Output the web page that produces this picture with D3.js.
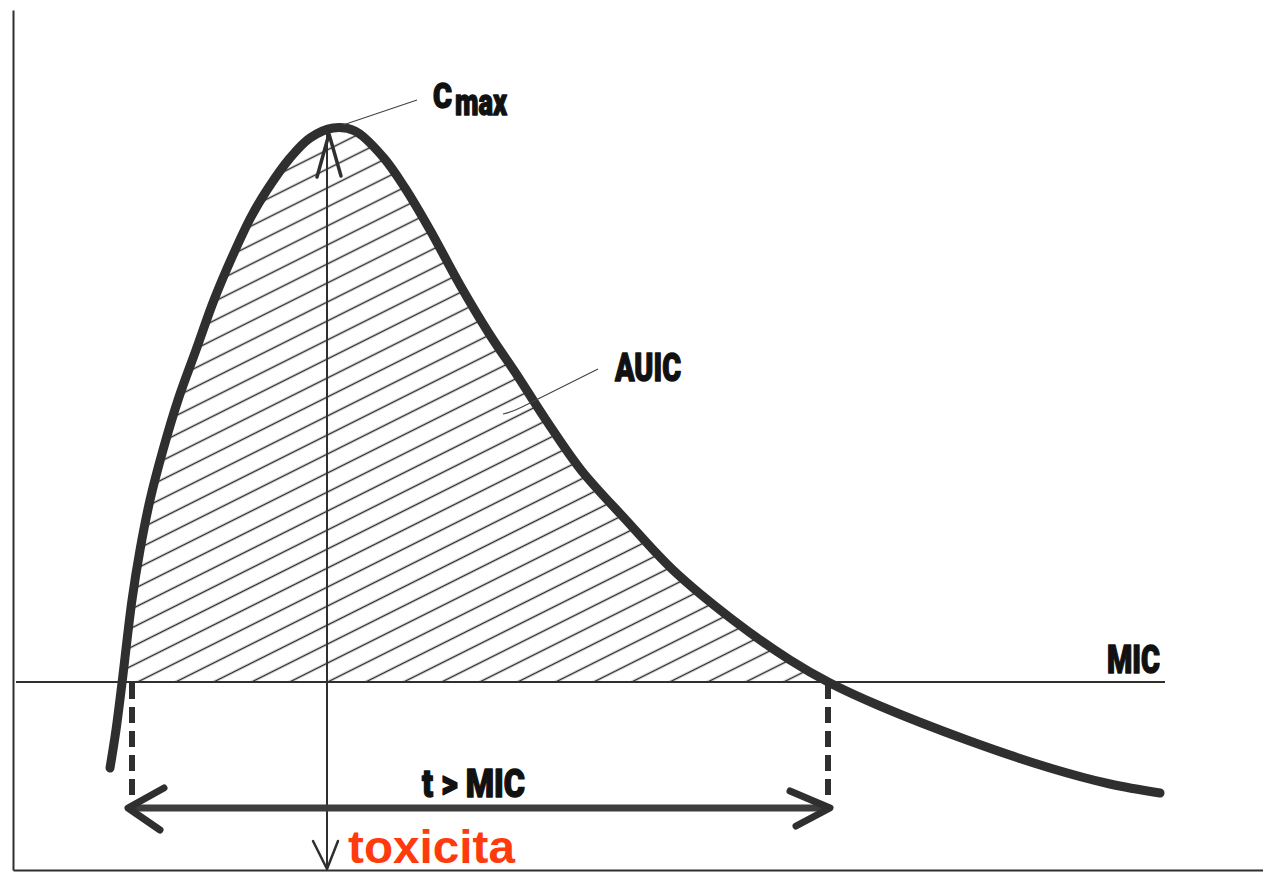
<!DOCTYPE html>
<html>
<head>
<meta charset="utf-8">
<script src="https://cdn.jsdelivr.net/npm/d3@7"></script>
<style>
  body { margin: 0; background: #fff; }
  svg { display: block; }
</style>
</head>
<body>
<div id="chart"></div>
<script>
// time (h) and concentration
var times = [1.94, 2.06, 2.18, 2.38, 2.54, 2.74, 3.0, 3.3, 3.66, 4.02, 4.4, 4.76, 5.08, 5.54, 5.94,
             6.4, 6.84, 7.4, 7.84, 8.34, 8.94, 9.54, 10.04, 10.66, 11.36, 12.26, 13.2, 14.4,
             15.54, 16.34, 17.34, 19.08, 20.74, 21.94, 22.94];
var conc  = [5.1, 7.0, 9.35, 13.5, 16.0, 18.5, 21.0, 23.5, 26.0, 28.5, 30.75, 32.65, 34.0, 35.6, 36.6,
             37.1, 36.95, 35.65, 34.1, 32.0, 29.25, 26.75, 24.9, 22.5, 20.0, 17.5, 15.0, 12.5,
             10.5, 9.35, 8.2, 6.5, 5.1, 4.3, 3.85];

var mic = 9.4;
var micRange = [0.06, 23.04];     // extent of the MIC line
var tAbove = [2.38, 16.3];        // t > MIC (dashed drops)
var arrowC = 3.1;                 // level of the t > MIC arrow
var tmaxT = 6.28, cmaxC = 37.05;  // vertical arrow under Cmax

var labels = { cmax: "C", cmaxSub: "max", auic: "AUIC", mic: "MIC", tmic: "t > MIC", tox: "toxicita" };

var width = 1263, height = 875;
var ink = "#2f2f2f";

var x = d3.scaleLinear().domain([0, 25]).range([13, 1263]);
var y = d3.scaleLinear().domain([0, 43]).range([870, 10]);

var svg = d3.select("#chart").append("svg")
    .attr("width", width)
    .attr("height", height);

var defs = svg.append("defs");

// hatching
var pat = defs.append("pattern")
    .attr("id", "hatch")
    .attr("patternUnits", "userSpaceOnUse")
    .attr("width", 20)
    .attr("height", 17)
    .attr("patternTransform", "rotate(-26.57)");
pat.append("line")
    .attr("x1", -2).attr("x2", 22)
    .attr("y1", 8.5).attr("y2", 8.5)
    .attr("stroke", "#2a2a2a")
    .attr("stroke-width", 1.5);

defs.append("clipPath").attr("id", "aboveMic")
  .append("rect")
    .attr("x", 0).attr("y", 0)
    .attr("width", width)
    .attr("height", y(mic));

var pts = times.map(function (t, i) { return [t, conc[i]]; });

// axes (no ticks, only the lines)
svg.append("g")
    .attr("transform", "translate(" + x(0) + ",0)")
    .call(d3.axisLeft(y).tickValues([]).tickSizeOuter(0))
    .select(".domain").attr("stroke", ink).attr("stroke-width", 2);

svg.append("g")
    .attr("transform", "translate(0," + y(0) + ")")
    .call(d3.axisBottom(x).tickValues([]).tickSizeOuter(0))
    .select(".domain").attr("stroke", ink).attr("stroke-width", 2);

// AUIC hatched area
var area = d3.area()
    .x(function (d) { return x(d[0]); })
    .y0(y(mic))
    .y1(function (d) { return y(d[1]); })
    .curve(d3.curveCatmullRom.alpha(0.5));

svg.append("path")
    .datum(pts)
    .attr("clip-path", "url(#aboveMic)")
    .attr("d", area)
    .attr("fill", "url(#hatch)");

// MIC line
svg.append("line")
    .attr("x1", x(micRange[0])).attr("x2", x(micRange[1]))
    .attr("y1", y(mic)).attr("y2", y(mic))
    .attr("stroke", ink)
    .attr("stroke-width", 2.2);

// vertical arrow under Cmax
svg.append("line")
    .attr("x1", x(tmaxT)).attr("x2", x(tmaxT))
    .attr("y1", y(cmaxC) + 3).attr("y2", y(0))
    .attr("stroke", ink)
    .attr("stroke-width", 2);

function chevron(tipX, tipY, a1, a2, w) {
  svg.append("path")
    .attr("d", "M" + a1[0] + "," + a1[1] + "L" + tipX + "," + tipY + "L" + a2[0] + "," + a2[1])
    .attr("fill", "none")
    .attr("stroke", ink)
    .attr("stroke-width", w)
    .attr("stroke-linecap", "round")
    .attr("stroke-linejoin", "round");
}

var vx = x(tmaxT);
chevron(vx + 2, y(cmaxC) + 5, [vx - 10, y(cmaxC) + 48], [vx + 14, y(cmaxC) + 47], 3.5);
chevron(vx, y(0) - 1, [vx - 14, y(0) - 29], [vx + 11, y(0) - 29], 2.5);

// dashed drops at t > MIC limits
tAbove.forEach(function (t) {
  svg.append("line")
    .attr("x1", x(t)).attr("x2", x(t))
    .attr("y1", y(mic) + 1).attr("y2", y(arrowC) - 6)
    .attr("stroke", ink)
    .attr("stroke-width", 6)
    .attr("stroke-dasharray", "16,8");
});

// t > MIC double arrow
var ax1 = x(tAbove[0]) - 4, ax2 = x(tAbove[1]) + 2, ay = y(arrowC);
svg.append("line")
    .attr("x1", ax1 + 4).attr("x2", ax2 - 4)
    .attr("y1", ay).attr("y2", ay)
    .attr("stroke", "#3d3d3d")
    .attr("stroke-width", 7);
chevron(ax1, ay, [ax1 + 36, ay - 20], [ax1 + 32, ay + 22], 7);
chevron(ax2, ay, [ax2 - 40, ay - 17], [ax2 - 34, ay + 18], 7);

// concentration curve
var line = d3.line()
    .x(function (d) { return x(d[0]); })
    .y(function (d) { return y(d[1]); })
    .curve(d3.curveCatmullRom.alpha(0.5));

svg.append("path")
    .datum(pts)
    .attr("d", line)
    .attr("fill", "none")
    .attr("stroke", ink)
    .attr("stroke-width", 9)
    .attr("stroke-linecap", "round")
    .attr("stroke-linejoin", "round");

// leader lines
svg.append("path")
    .attr("d", "M343,125L417,100")
    .attr("fill", "none").attr("stroke", "#444").attr("stroke-width", 1.2);
svg.append("path")
    .attr("d", "M598,369L522,407Q512,412 503,414")
    .attr("fill", "none").attr("stroke", "#444").attr("stroke-width", 1.2);

// labels
var cond = "Roboto, 'Open Sans', 'Liberation Sans', sans-serif";

function label(txt, lx, ly, size, len) {
  return svg.append("text")
    .attr("x", lx).attr("y", ly)
    .attr("font-family", cond)
    .attr("font-weight", 900)
    .attr("font-size", size + "px")
    .attr("fill", "#111")
    .attr("stroke", "#111")
    .attr("stroke-width", 1.4)
    .attr("stroke-linejoin", "round")
    .attr("textLength", len)
    .attr("lengthAdjust", "spacingAndGlyphs")
    .text(txt);
}

label(labels.cmax, 433, 108, 35, 19);
label(labels.cmaxSub, 455, 115, 36, 52);
label(labels.auic, 615, 381, 39, 66);
label(labels.mic, 1107, 673, 38, 53);
label(labels.tmic, 422, 797, 38, 103);

svg.append("text")
    .attr("x", 348).attr("y", 863)
    .attr("font-family", "'Liberation Sans', Arial, sans-serif")
    .attr("font-weight", "bold")
    .attr("font-size", "47px")
    .attr("fill", "#ff3a0c")
    .attr("textLength", 167)
    .attr("lengthAdjust", "spacingAndGlyphs")
    .text(labels.tox);
</script>
</body>
</html>
